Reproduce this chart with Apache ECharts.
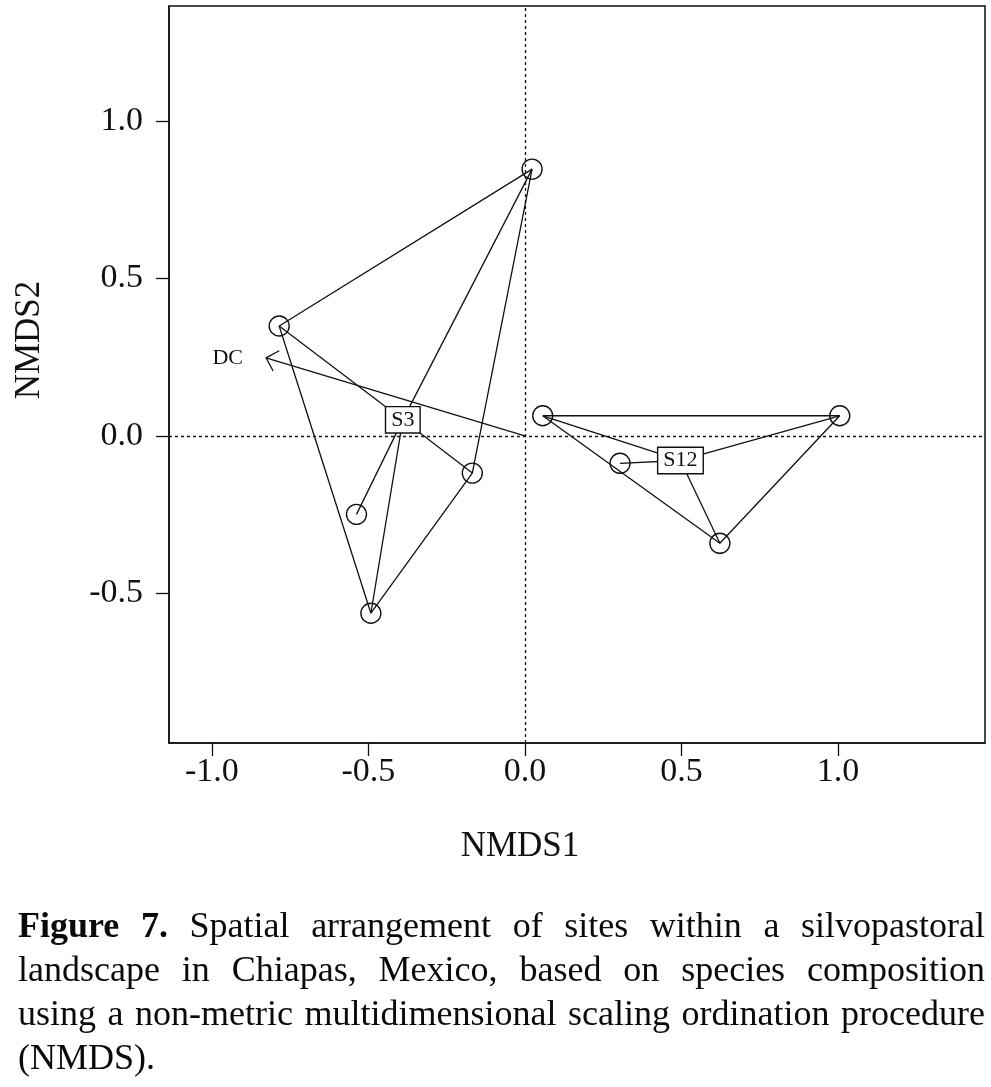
<!DOCTYPE html>
<html>
<head>
<meta charset="utf-8">
<script src="https://cdn.jsdelivr.net/npm/echarts@6/dist/echarts.min.js"></script>
<style>
  html, body { margin: 0; padding: 0; background: #fff; }
  #chart { position: absolute; left: 0; top: 0; width: 991px; height: 1087px; }
  #cap { position: absolute; left: 18px; top: 903px; width: 967px;
         font-family: 'Liberation Serif', 'Times New Roman', serif; font-size: 36px;
         line-height: 44px; color: #0a0a0a; }
  #cap .j { text-align: justify; text-align-last: justify; white-space: nowrap; }
</style>
</head>
<body>
<div id="chart"></div>
<div id="cap">
  <div class="j"><b>Figure 7.</b> Spatial arrangement of sites within a silvopastoral</div>
  <div class="j">landscape in Chiapas, Mexico, based on species composition</div>
  <div class="j">using a non-metric multidimensional scaling ordination procedure</div>
  <div>(NMDS).</div>
</div>
<script>
// ---- data ----
const xRange = [-1.137, 1.470];
const yRange = [-0.975, 1.365];
const xTicks = [-1.0, -0.5, 0.0, 0.5, 1.0];
const yTicks = [-0.5, 0.0, 0.5, 1.0];

const s3X = [0.023, -0.785, -0.538, -0.492, -0.168];
const s3Y = [0.847, 0.349, -0.249, -0.563, -0.118];
const s3Hull = [0, 1, 3, 4];
const s3Centroid = [-0.390, 0.051];

const s12X = [0.057, 0.304, 0.623, 1.006];
const s12Y = [0.064, -0.087, -0.341, 0.064];
const s12Hull = [0, 3, 2];
const s12Centroid = [0.497, -0.078];

const groupNames = ['S3', 'S12'];
const dcName = 'DC';
const dcVector = [-0.827, 0.248];

// ---- build ----
const INK = '#111';
const FONT = 'Liberation Serif';

function pts(xs, ys) { return xs.map((x, i) => [x, ys[i]]); }
function hull(xs, ys, idx) {
  const p = idx.map(i => [xs[i], ys[i]]);
  p.push(p[0]);
  return p;
}
function spider(c, xs, ys) { return xs.map((x, i) => ({ coords: [c, [x, ys[i]]] })); }

const chart = echarts.init(document.getElementById('chart'), null, { renderer: 'canvas' });

const axisLabelCommon = {
  fontFamily: FONT, fontSize: 34, color: INK,
  formatter: v => Number(v).toFixed(1)
};

chart.setOption({
  animation: false,
  backgroundColor: '#fff',
  grid: { left: 169, right: 6, top: 6, bottom: 344, show: true, borderColor: INK, borderWidth: 1.5, containLabel: false },
  xAxis: {
    type: 'value', min: xRange[0], max: xRange[1],
    axisLine: { show: true, onZero: false, lineStyle: { color: INK, width: 1.5 } },
    axisTick: { show: true, inside: false, length: 13, customValues: xTicks, lineStyle: { color: INK, width: 1.3 } },
    axisLabel: Object.assign({ margin: 12, customValues: xTicks }, axisLabelCommon),
    splitLine: { show: false }
  },
  yAxis: {
    type: 'value', min: yRange[0], max: yRange[1],
    axisLine: { show: true, onZero: false, lineStyle: { color: INK, width: 1.5 } },
    axisTick: { show: true, inside: false, length: 13, customValues: yTicks, lineStyle: { color: INK, width: 1.3 } },
    axisLabel: Object.assign({ margin: 26, customValues: yTicks }, axisLabelCommon),
    splitLine: { show: false }
  },
  graphic: [
    { type: 'text', x: 520, y: 847, style: { text: 'NMDS1', font: '35px ' + FONT, fill: INK, align: 'center', verticalAlign: 'middle' } },
    { type: 'text', x: 30, y: 340, rotation: Math.PI / 2, style: { text: 'NMDS2', font: '35px ' + FONT, fill: INK, align: 'center', verticalAlign: 'middle' } }
  ],
  series: [
    {
      name: 'hullS3', type: 'line', z: 2, showSymbol: false, silent: true,
      data: hull(s3X, s3Y, s3Hull),
      lineStyle: { color: INK, width: 1.3 },
      markLine: {
        silent: true, symbol: ['none', 'none'], label: { show: false },
        lineStyle: { color: INK, width: 1.3, type: [3, 3] },
        data: [{ xAxis: 0 }, { yAxis: 0 }]
      }
    },
    {
      name: 'hullS12', type: 'line', z: 2, showSymbol: false, silent: true,
      data: hull(s12X, s12Y, s12Hull),
      lineStyle: { color: INK, width: 1.3 }
    },
    {
      name: 'spider', type: 'lines', coordinateSystem: 'cartesian2d', z: 2, silent: true,
      data: spider(s3Centroid, s3X, s3Y).concat(spider(s12Centroid, s12X, s12Y)),
      lineStyle: { color: INK, width: 1.3, opacity: 1 }
    },
    {
      name: 'sites', type: 'scatter', z: 3, silent: true,
      data: pts(s3X, s3Y).concat(pts(s12X, s12Y)),
      symbol: 'circle', symbolSize: 20,
      itemStyle: { color: 'rgba(0,0,0,0)', borderColor: INK, borderWidth: 1.4, opacity: 1 }
    },
    {
      name: 'vector', type: 'custom', z: 4, silent: true,
      data: [dcVector],
      encode: { x: 0, y: 1 },
      renderItem: function (params, api) {
        const o = api.coord([0, 0]);
        const t = api.coord([api.value(0), api.value(1)]);
        const ang = Math.atan2(o[1] - t[1], o[0] - t[0]);
        const L = 15, spread = Math.PI / 4;
        const a1 = [t[0] + L * Math.cos(ang - spread), t[1] + L * Math.sin(ang - spread)];
        const a2 = [t[0] + L * Math.cos(ang + spread), t[1] + L * Math.sin(ang + spread)];
        return {
          type: 'group',
          children: [
            { type: 'line', shape: { x1: o[0], y1: o[1], x2: t[0], y2: t[1] }, style: { stroke: INK, lineWidth: 1.3 } },
            { type: 'polyline', shape: { points: [a1, t, a2] }, style: { stroke: INK, lineWidth: 1.3, fill: null } },
            { type: 'text', style: { text: dcName, x: t[0] - 23, y: t[1], align: 'right', verticalAlign: 'middle', font: '22px ' + FONT, fill: INK } }
          ]
        };
      }
    },
    {
      name: 'groups', type: 'custom', z: 5, silent: true,
      data: [
        { name: groupNames[0], value: s3Centroid },
        { name: groupNames[1], value: s12Centroid }
      ],
      encode: { x: 0, y: 1 },
      renderItem: function (params, api) {
        const c = api.coord([api.value(0), api.value(1)]);
        return {
          type: 'text',
          style: {
            text: groupNames[params.dataIndex], x: c[0], y: c[1],
            align: 'center', verticalAlign: 'middle',
            font: '22px ' + FONT, fill: INK, lineHeight: 22,
            backgroundColor: '#fff', borderColor: INK, borderWidth: 1.4,
            padding: [2, 5, 1, 5]
          }
        };
      }
    }
  ]
});
</script>
</body>
</html>
